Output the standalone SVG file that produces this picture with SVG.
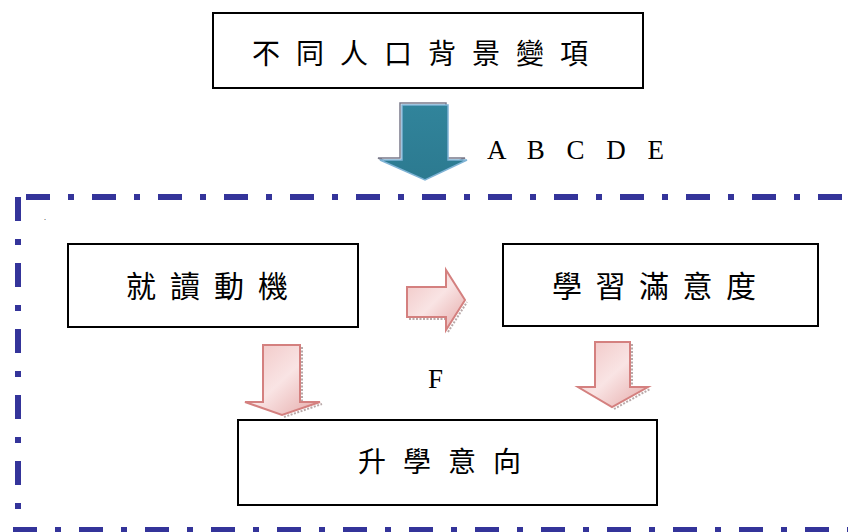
<svg xmlns="http://www.w3.org/2000/svg" width="848" height="532" viewBox="0 0 848 532">
<defs>
<style>
.box{fill:#fff;stroke:#000;stroke-width:2}
.cjk{font-family:"Noto Sans CJK TC","Noto Sans CJK SC",sans-serif;fill:#000}
.lat{font-family:"Liberation Serif","Times New Roman",serif;fill:#000}
.frame{fill:none;stroke:#34349a;stroke-width:6;stroke-dasharray:24 18 6 18}
.pink{fill:url(#pg);stroke:#d4807f;stroke-width:2}
.pshadow{fill:none;stroke:#8a7070;stroke-width:2;stroke-dasharray:2 1.5;opacity:0.6}
</style>
<linearGradient id="pg" x1="0" y1="0" x2="1" y2="1">
<stop offset="0" stop-color="#f0c4c3"/>
<stop offset="0.5" stop-color="#f9e4e4"/>
<stop offset="1" stop-color="#e5a9a8"/>
</linearGradient>
<linearGradient id="tg" x1="0" y1="0" x2="0" y2="1">
<stop offset="0" stop-color="#31849b"/>
<stop offset="1" stop-color="#2c7a90"/>
</linearGradient>
</defs>
<g id="frame">
<line class="frame" x1="26" y1="197" x2="860" y2="197"/>
<line class="frame" x1="18" y1="197" x2="18" y2="527"/>
<line class="frame" x1="13" y1="530" x2="860" y2="530"/>
<text x="44" y="220" class="lat" font-size="8">.</text>
</g>
<g id="connectors">
<g id="arrow-teal">
<path d="M400,103 H446 V158 H465 L423,178 L378,158 H400 Z" fill="none" stroke="#7a7a8a" stroke-width="1.5"/>
<path d="M402,105 H448 V160 H467 L425,180 L380,160 H402 Z" fill="url(#tg)" stroke="#7fb3d5" stroke-width="1.5"/>
</g>
<g id="arrow-right">
<path class="pshadow" d="M409,319 H448 M448,332 L467,302"/>
<path class="pink" d="M407,287 H446 V270 L465,300 L446,330 V317 H407 Z"/>
</g>
<g id="arrow-down-left">
<path class="pshadow" d="M302,347 V404 M284,417 L322,404"/>
<path class="pink" d="M263,345 H300 V402 H320 L282,415 L245,402 H263 Z"/>
</g>
<g id="arrow-down-right">
<path class="pshadow" d="M632,344 V389 M614,409 L650,389"/>
<path class="pink" d="M595,342 H630 V387 H648 L612,407 L578,387 H595 Z"/>
</g>
<text x="487" y="159" class="lat" font-size="27" letter-spacing="7.5" xml:space="preserve">A B C D E</text>
<text x="428" y="388" class="lat" font-size="27">F</text>
</g>
<g id="node-top">
<rect class="box" x="213" y="13" width="430" height="75"/>
<text x="252" y="64" class="cjk" font-size="28" letter-spacing="16">不同人口背景變項</text>
</g>
<g id="node-motive">
<rect class="box" x="68" y="244" width="290" height="83"/>
<text x="126" y="297" class="cjk" font-size="30" letter-spacing="14">就讀動機</text>
</g>
<g id="node-satisfaction">
<rect class="box" x="503" y="244" width="315" height="82"/>
<text x="552" y="297" class="cjk" font-size="30" letter-spacing="13.5">學習滿意度</text>
</g>
<g id="node-intention">
<rect class="box" x="238" y="420" width="419" height="85"/>
<text x="358" y="472" class="cjk" font-size="28" letter-spacing="17">升學意向</text>
</g>
</svg>
